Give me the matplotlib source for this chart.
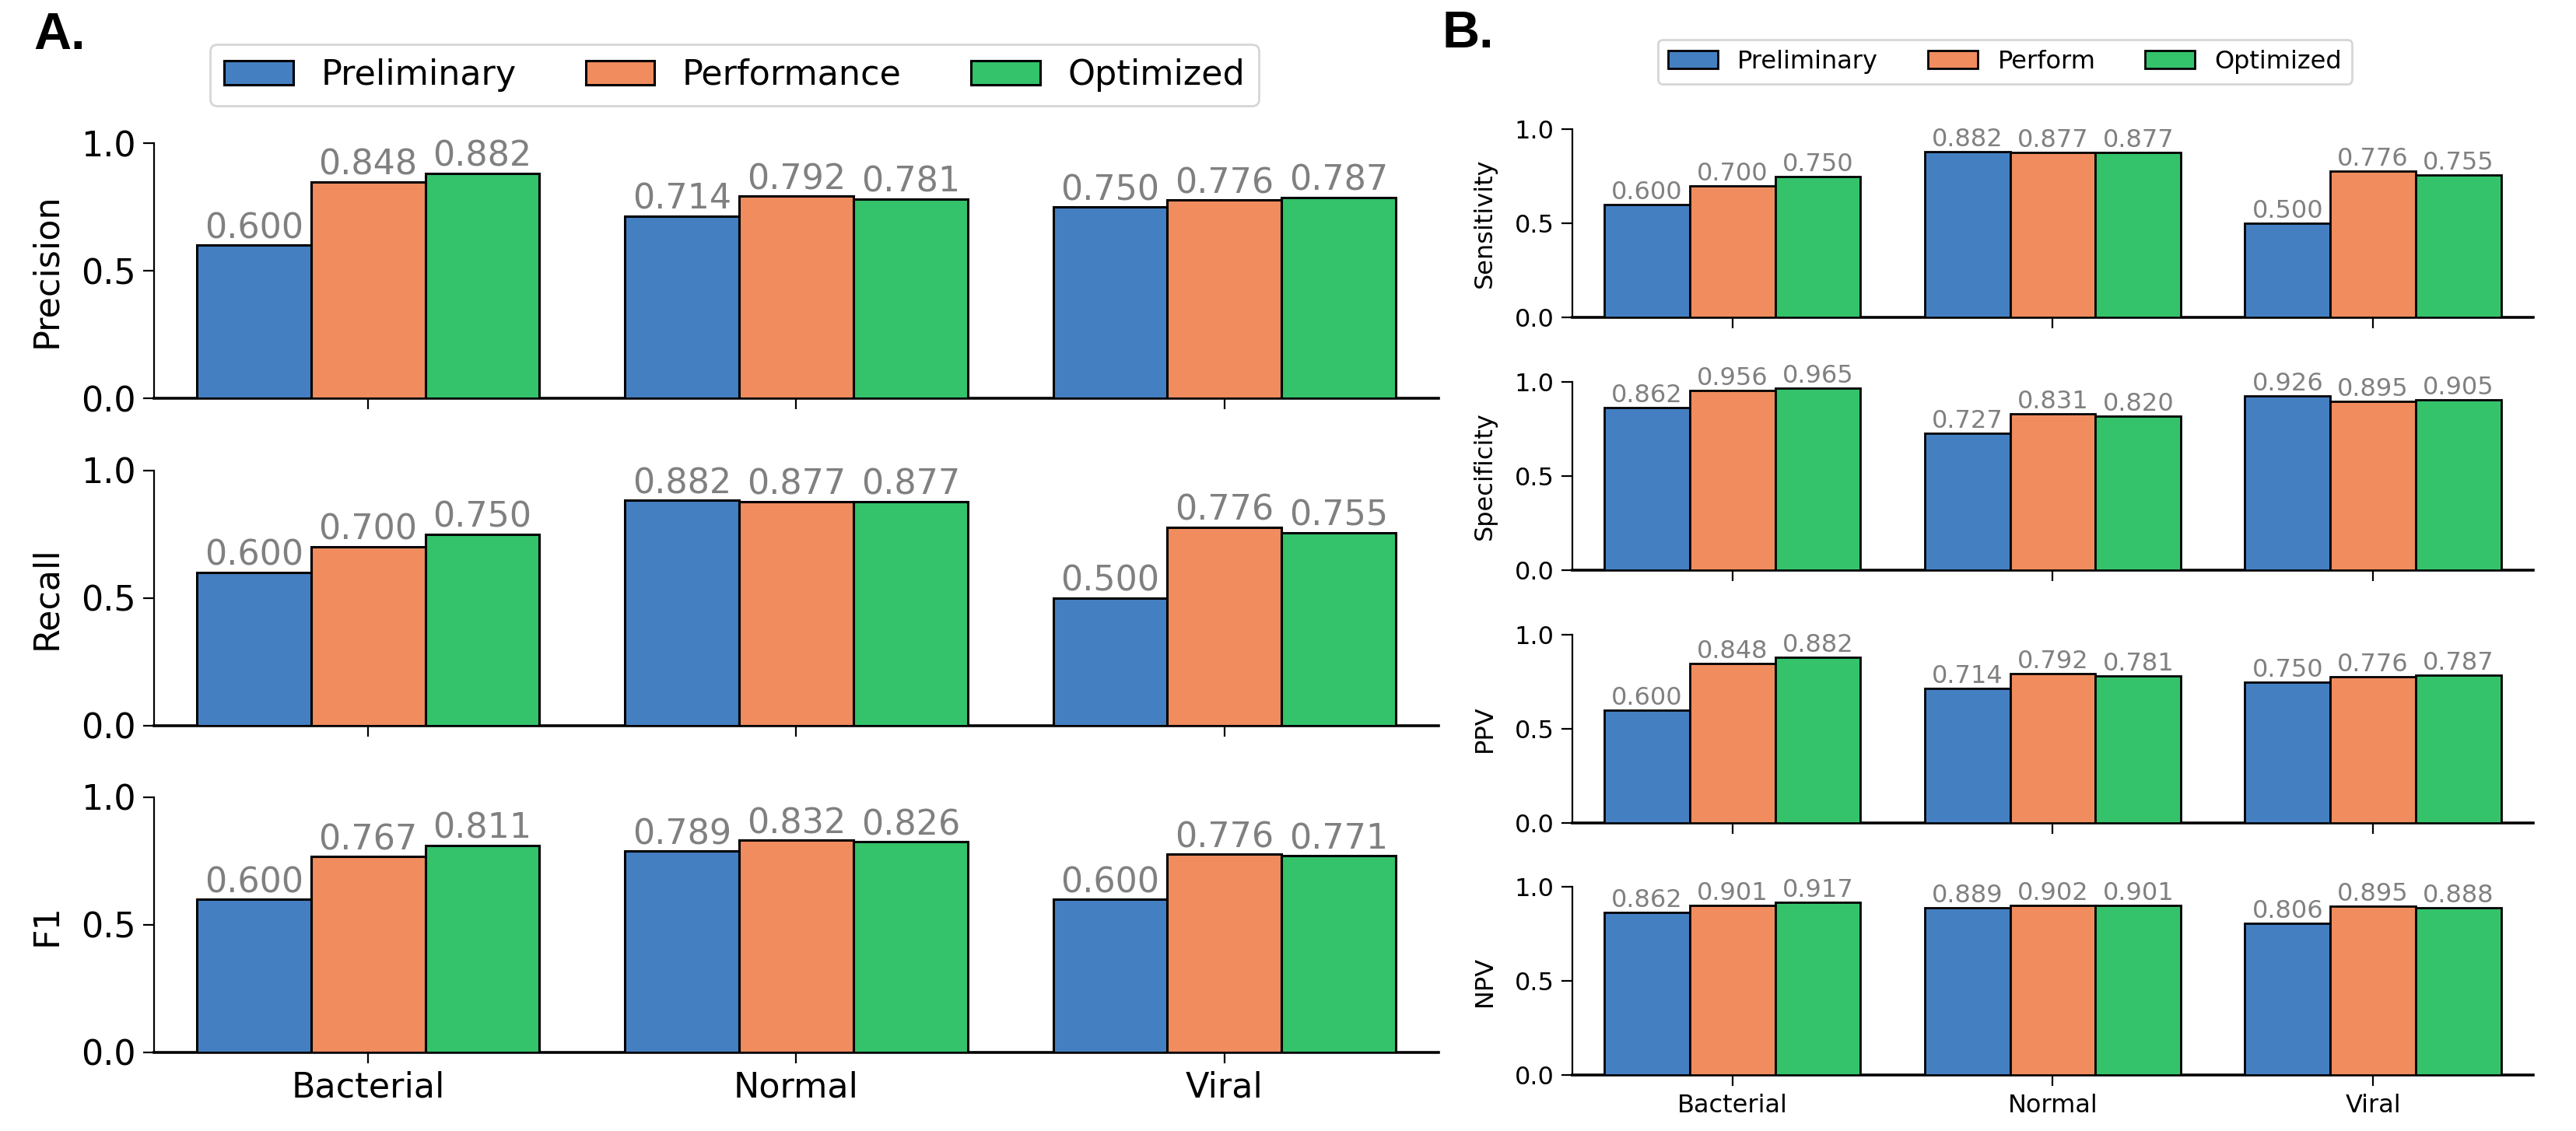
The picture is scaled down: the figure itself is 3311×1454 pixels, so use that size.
import matplotlib
matplotlib.use("Agg")
import matplotlib.pyplot as plt
import numpy as np
from matplotlib.patches import Patch

plt.rcParams['font.family'] = ['DejaVu Sans']

categories = ['Bacterial', 'Normal', 'Viral']
series_a = ['Preliminary', 'Performance', 'Optimized']
series_b = ['Preliminary', 'Perform', 'Optimized']
colors = ['#447fc2', '#f08c5e', '#34c36b']

# Panel A
precision_prelim = [0.600, 0.714, 0.750]
precision_perf = [0.848, 0.792, 0.776]
precision_opt = [0.882, 0.781, 0.787]
recall_prelim = [0.600, 0.882, 0.500]
recall_perf = [0.700, 0.877, 0.776]
recall_opt = [0.750, 0.877, 0.755]
f1_prelim = [0.600, 0.789, 0.600]
f1_perf = [0.767, 0.832, 0.776]
f1_opt = [0.811, 0.826, 0.771]

# Panel B
sens_prelim = [0.600, 0.882, 0.500]
sens_perf = [0.700, 0.877, 0.776]
sens_opt = [0.750, 0.877, 0.755]
spec_prelim = [0.862, 0.727, 0.926]
spec_perf = [0.956, 0.831, 0.895]
spec_opt = [0.965, 0.820, 0.905]
ppv_prelim = [0.600, 0.714, 0.750]
ppv_perf = [0.848, 0.792, 0.776]
ppv_opt = [0.882, 0.781, 0.787]
npv_prelim = [0.862, 0.889, 0.806]
npv_perf = [0.901, 0.902, 0.895]
npv_opt = [0.917, 0.901, 0.888]

W, H = 3312, 1454
DPI = 200
fig = plt.figure(figsize=(W / DPI, H / DPI), dpi=DPI)


def draw(ax, groups, fs, label, show_x, lw_edge):
    x = np.arange(len(categories))
    n = len(groups)
    w = 0.8 / n
    for i, vals in enumerate(groups):
        bars = ax.bar(x - 0.4 + w * (i + 0.5), vals, width=w, color=colors[i],
                      edgecolor='black', linewidth=lw_edge, zorder=3)
        ax.bar_label(bars, fmt='%.3f', padding=0, color='#808080', fontsize=fs,
                     clip_on=False)
    ax.set_xlim(-0.5, len(categories) - 0.5)
    ax.set_ylim(0, 1.0)
    ax.set_yticks([0.0, 0.5, 1.0])
    ax.set_xticks(x)
    if show_x:
        ax.set_xticklabels(categories, fontsize=fs)
    else:
        ax.set_xticklabels([])
    ax.tick_params(axis='both', labelsize=fs, length=5, width=0.8)
    ax.set_ylabel(label, fontsize=fs, labelpad=8)
    ax.spines['top'].set_visible(False)
    ax.spines['right'].set_visible(False)
    ax.spines['left'].set_linewidth(0.8)
    ax.spines['bottom'].set_linewidth(1.3)


# Panel A axes
a_left = 198 / W
a_width = (1849 - 198) / W
a_h = 328 / H
a_rows = [
    (512, [precision_prelim, precision_perf, precision_opt], 'Precision'),
    (932.5, [recall_prelim, recall_perf, recall_opt], 'Recall'),
    (1353, [f1_prelim, f1_perf, f1_opt], 'F1'),
]
for k, (bot, groups, lab) in enumerate(a_rows):
    ax = fig.add_axes([a_left, 1 - bot / H, a_width, a_h])
    draw(ax, groups, 16, lab, k == len(a_rows) - 1, 1.1)

# Panel B axes
b_left = 2021 / W
b_width = (3256 - 2021) / W
b_h = 242 / H
b_rows = [
    (408, [sens_prelim, sens_perf, sens_opt], 'Sensitivity'),
    (733, [spec_prelim, spec_perf, spec_opt], 'Specificity'),
    (1058, [ppv_prelim, ppv_perf, ppv_opt], 'PPV'),
    (1382, [npv_prelim, npv_perf, npv_opt], 'NPV'),
]
for k, (bot, groups, lab) in enumerate(b_rows):
    ax = fig.add_axes([b_left, 1 - bot / H, b_width, b_h])
    draw(ax, groups, 11.5, lab, k == len(b_rows) - 1, 1.0)

# Legends
handles_a = [Patch(facecolor=c, edgecolor='black', linewidth=1.1, label=l)
             for c, l in zip(colors, series_a)]
fig.legend(handles=handles_a, loc='upper center', ncol=3, fontsize=16,
           bbox_to_anchor=(944 / W, 1 - 57 / H), borderaxespad=0,
           frameon=True, edgecolor='#cccccc')
handles_b = [Patch(facecolor=c, edgecolor='black', linewidth=1.0, label=l)
             for c, l in zip(colors, series_b)]
fig.legend(handles=handles_b, loc='upper center', ncol=3, fontsize=11.5,
           bbox_to_anchor=(2577 / W, 1 - 51 / H), borderaxespad=0,
           frameon=True, edgecolor='#cccccc')

# Panel letters
fig.text(43 / W, 1 - 15 / H, 'A.', fontsize=24, fontweight='bold',
         family='Liberation Sans', va='top', ha='left')
fig.text(1854 / W, 1 - 13 / H, 'B.', fontsize=24, fontweight='bold',
         family='Liberation Sans', va='top', ha='left')

fig.savefig('out.png', dpi=DPI)
